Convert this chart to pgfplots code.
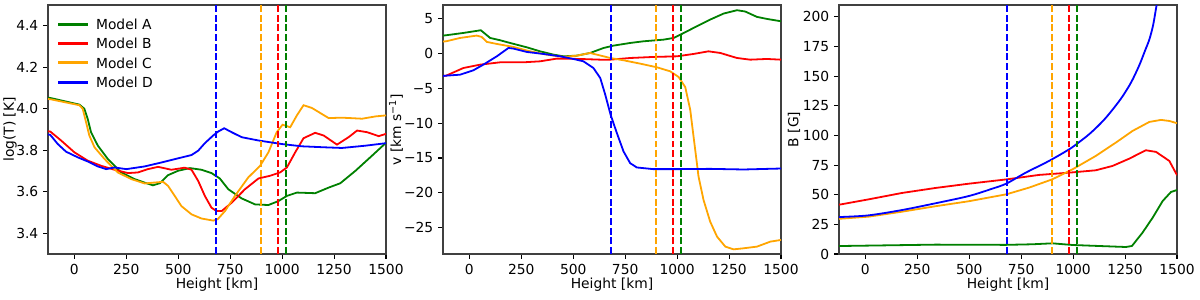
\documentclass[border=0pt]{standalone}
\usepackage{fontspec}
\setmainfont{DejaVu Sans}
\usepackage{pgfplots}
\pgfplotsset{compat=1.18}
\definecolor{mgreen}{RGB}{0,128,0}
\definecolor{morange}{RGB}{255,165,0}
\definecolor{mred}{RGB}{255,0,0}
\definecolor{mblue}{RGB}{0,0,255}
\newcommand{\fs}{\fontsize{10}{12}\selectfont}
\pgfplotsset{
  base/.style={
    scale only axis, width=3.38in, height=2.49in, anchor=south west,
    xmin=-127, xmax=1500,
    xtick={0,250,500,750,1000,1250,1500},
    xticklabels={0,250,500,750,1000,1250,1500},
    tick align=outside, xtick pos=bottom, ytick pos=left,
    major tick length=3.5pt,
    tick style={black, line width=0.8pt},
    axis line style={black!75, line width=1pt},
    xlabel={Height [km]},
    tick label style={font=\fs},
    every axis x label/.style={at={(rel axis cs:0.5,0)}, anchor=center, yshift=-0.31in, font=\fs},
    every axis plot/.append style={line width=1.3pt},
  },
  ylab/.style={every axis y label/.style={at={(rel axis cs:0,0.5)}, rotate=90, anchor=center, yshift=#1, font=\fs}},
  vl/.style={forget plot, dash pattern=on 5pt off 2pt, line width=#1},
}
\begin{document}
\begin{tikzpicture}
\path[use as bounding box] (0,0) rectangle (12in,3in);
% ---------- Panel 1 ----------
\begin{axis}[base, at={(0.48in,0.46in)},
  ymin=3.3, ymax=4.5,
  ytick={3.4,3.6,3.8,4.0,4.2,4.4},
  yticklabels={3.4,3.6,3.8,4.0,4.2,4.4},
  ylabel={log(T) [K]}, ylab=0.38in,
  legend cell align=left,
  legend style={at={(0,1)}, anchor=north west, xshift=7pt, yshift=-8.9pt,
    draw=none, fill=none, inner sep=0pt, font=\fs, row sep=4.5pt, column sep=5pt,
    nodes={inner sep=1pt, text height=7.5pt, text depth=0pt}},
  legend image code/.code={\fill[#1] (0in,-0.5pt) rectangle (0.28in,0.5pt);},
]
\addplot[mgreen] coordinates {(-127,4.053) (-116,4.052) (24,4.020) (48,4.000) (64,3.952) (80,3.887) (113,3.822) (161,3.758) (225,3.693) (290,3.661) (338,3.644) (378,3.631) (411,3.641) (451,3.680) (499,3.701) (556,3.714) (612,3.706) (660,3.690) (700,3.664) (741,3.612) (805,3.568) (870,3.539) (934,3.536) (982,3.555) (1023,3.580) (1071,3.596) (1159,3.593) (1224,3.620) (1280,3.641) (1353,3.701) (1433,3.774) (1500,3.836)};
\addlegendentry{Model A}
\addplot[mred] coordinates {(-127,3.892) (-116,3.890) (-64,3.847) (0,3.790) (64,3.750) (129,3.725) (193,3.706) (258,3.690) (306,3.693) (354,3.709) (403,3.720) (467,3.706) (531,3.716) (564,3.706) (596,3.652) (628,3.580) (660,3.523) (684,3.507) (709,3.507) (757,3.547) (821,3.612) (886,3.664) (942,3.677) (990,3.693) (1023,3.717) (1063,3.790) (1103,3.858) (1159,3.884) (1200,3.871) (1264,3.827) (1320,3.863) (1361,3.895) (1409,3.887) (1465,3.868) (1500,3.879)};
\addlegendentry{Model B}
\addplot[morange] coordinates {(-127,4.047) (-116,4.046) (24,4.017) (40,4.000) (56,3.936) (72,3.871) (97,3.814) (145,3.758) (209,3.693) (274,3.661) (338,3.640) (427,3.648) (451,3.628) (483,3.580) (515,3.531) (564,3.491) (612,3.471) (668,3.461) (690,3.468) (725,3.507) (773,3.580) (837,3.669) (894,3.725) (934,3.790) (974,3.887) (1002,3.923) (1039,3.911) (1071,3.968) (1103,4.017) (1143,4.004) (1224,3.955) (1288,3.957) (1385,3.952) (1449,3.963) (1500,3.968)};
\addlegendentry{Model C}
\addplot[mblue] coordinates {(-127,3.876) (-116,3.874) (-80,3.830) (-40,3.793) (16,3.766) (64,3.746) (113,3.722) (153,3.709) (193,3.717) (250,3.709) (338,3.722) (419,3.741) (499,3.761) (564,3.777) (596,3.798) (628,3.834) (668,3.871) (692,3.890) (721,3.906) (757,3.887) (805,3.863) (886,3.847) (998,3.830) (1095,3.819) (1208,3.814) (1288,3.811) (1401,3.822) (1500,3.834)};
\addlegendentry{Model D}
\addplot[mblue, vl=1.6pt] coordinates {(680,3.3) (680,4.5)};
\addplot[morange, vl=1.4pt] coordinates {(900,3.3) (900,4.5)};
\addplot[mred, vl=1.6pt] coordinates {(980,3.3) (980,4.5)};
\addplot[mgreen, vl=1.4pt] coordinates {(1020,3.3) (1020,4.5)};
\end{axis}
% ---------- Panel 2 ----------
\begin{axis}[base, at={(4.43in,0.46in)},
  ymin=-28.8, ymax=7.0,
  ytick={-25,-20,-15,-10,-5,0,5},
  yticklabels={−25,−20,−15,−10,−5,0,5},
  ylabel={v [km s\textsuperscript{−1}]}, ylab=0.47in,
]
\addplot[mgreen] coordinates {(-127,2.60) (-112,2.65) (-29,2.98) (55,3.37) (100,2.26) (148,1.93) (196,1.54) (276,0.92) (340,0.34) (405,-0.14) (453,-0.38) (517,-0.28) (581,0.10) (646,0.82) (694,1.16) (774,1.54) (838,1.78) (935,2.02) (983,2.26) (1023,2.84) (1079,3.70) (1159,4.90) (1224,5.77) (1288,6.25) (1328,6.06) (1384,5.29) (1432,5.00) (1500,4.66)};
\addplot[mred] coordinates {(-127,-3.20) (-112,-3.16) (-29,-2.06) (51,-1.58) (148,-1.24) (260,-1.24) (340,-1.10) (421,-0.71) (533,-0.76) (630,-0.86) (678,-0.86) (774,-0.62) (886,-0.47) (999,-0.38) (1079,-0.04) (1151,0.34) (1208,0.10) (1288,-0.62) (1352,-0.86) (1432,-0.76) (1500,-0.86)};
\addplot[morange] coordinates {(-127,1.75) (-112,1.78) (-45,2.26) (35,2.60) (59,2.41) (84,1.69) (132,1.40) (212,0.97) (292,0.34) (373,-0.14) (453,-0.47) (517,-0.28) (581,0.10) (646,-0.38) (678,-0.62) (742,-0.95) (822,-1.43) (903,-1.96) (967,-2.54) (1007,-3.35) (1039,-4.79) (1063,-8.06) (1087,-13.82) (1103,-17.66) (1127,-21.02) (1159,-24.14) (1192,-26.30) (1232,-27.74) (1272,-28.13) (1320,-27.98) (1384,-27.74) (1449,-27.02) (1500,-26.78)};
\addplot[mblue] coordinates {(-127,-3.20) (-112,-3.16) (-45,-3.02) (19,-2.39) (67,-1.58) (132,-0.38) (188,0.82) (212,0.73) (276,0.25) (357,-0.04) (437,-0.38) (501,-0.76) (549,-1.10) (597,-2.06) (630,-3.50) (654,-5.90) (680,-8.80) (710,-11.42) (742,-14.06) (774,-15.74) (806,-16.36) (886,-16.60) (999,-16.60) (1159,-16.56) (1320,-16.65) (1500,-16.51)};
\addplot[mblue, vl=1.6pt] coordinates {(680,-28.8) (680,7)};
\addplot[morange, vl=1.4pt] coordinates {(900,-28.8) (900,7)};
\addplot[mred, vl=1.6pt] coordinates {(980,-28.8) (980,7)};
\addplot[mgreen, vl=1.4pt] coordinates {(1020,-28.8) (1020,7)};
\end{axis}
% ---------- Panel 3 ----------
\begin{axis}[base, at={(8.39in,0.46in)},
  ymin=0, ymax=210,
  ytick={0,25,50,75,100,125,150,175,200},
  yticklabels={0,25,50,75,100,125,150,175,200},
  ylabel={B [G]}, ylab=0.45in,
]
\addplot[mgreen] coordinates {(-127,6.75) (-116,6.75) (338,7.9) (675,7.7) (804,8.2) (900,9.0) (997,7.6) (1125,6.75) (1254,5.9) (1283,6.75) (1334,18.0) (1383,30.7) (1431,44.7) (1471,52.3) (1500,54.0)};
\addplot[mred] coordinates {(-127,41.6) (-116,41.9) (16,46.1) (177,51.5) (338,55.7) (498,59.3) (683,63.0) (836,66.7) (981,68.6) (1109,70.6) (1190,74.3) (1270,80.4) (1350,87.5) (1399,86.1) (1463,78.5) (1500,66.5)};
\addplot[morange] coordinates {(-127,29.6) (-116,29.8) (16,31.5) (177,35.7) (338,40.3) (498,44.5) (680,50.4) (788,56.0) (900,63.0) (997,71.4) (1109,82.7) (1206,94.0) (1286,103.8) (1367,111.4) (1423,113.1) (1463,112.2) (1500,110.3)};
\addplot[mblue, smooth] coordinates {(-127,31.0) (-116,31.2) (16,32.6) (177,37.1) (338,42.8) (498,48.9) (611,55.1) (680,59.5) (772,68.6) (884,78.5) (981,88.3) (1030,94.5) (1077,101) (1120,108) (1158,115) (1200,124) (1238,133) (1280,145) (1318,159) (1345,171) (1367,181) (1385,193) (1402,210) (1415,220) (1430,232)};
\addplot[mblue, vl=1.6pt] coordinates {(680,0) (680,210)};
\addplot[morange, vl=1.4pt] coordinates {(900,0) (900,210)};
\addplot[mred, vl=1.6pt] coordinates {(980,0) (980,210)};
\addplot[mgreen, vl=1.4pt] coordinates {(1020,0) (1020,210)};
\end{axis}
\end{tikzpicture}
\end{document}
